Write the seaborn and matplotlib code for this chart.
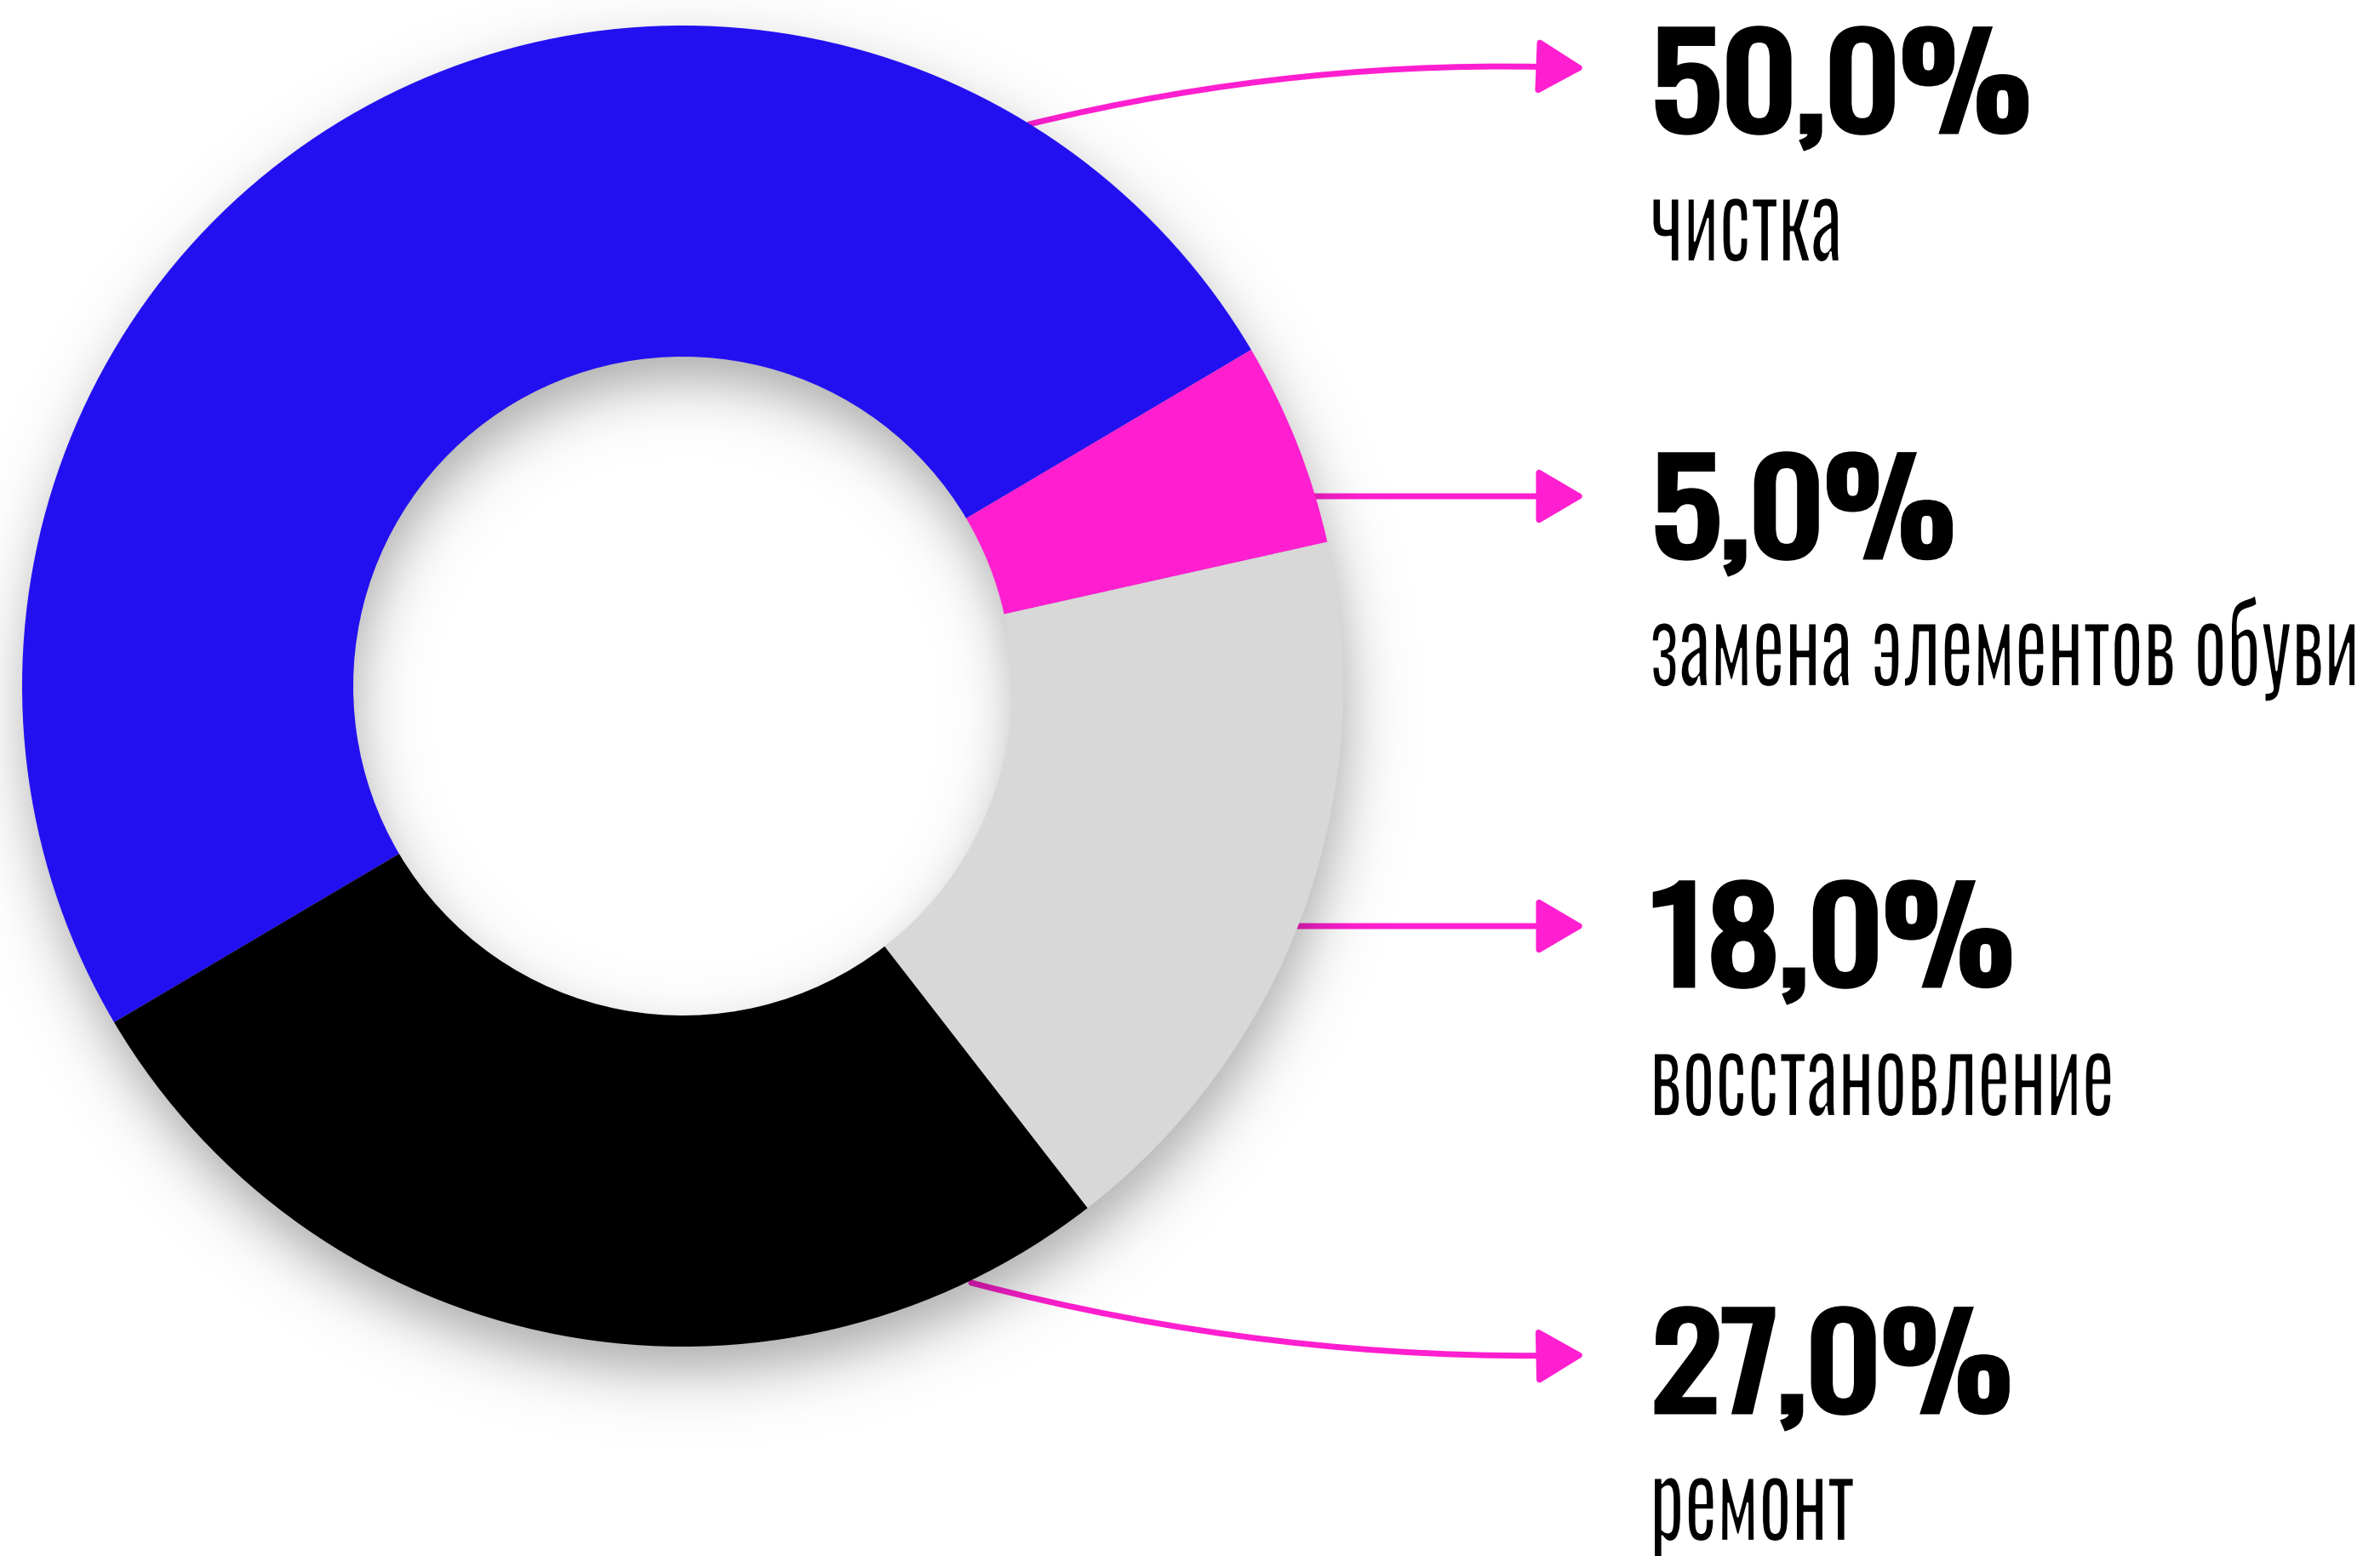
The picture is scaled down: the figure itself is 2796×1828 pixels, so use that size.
import numpy as np
import seaborn as sns
import matplotlib.pyplot as plt
from matplotlib.patheffects import AbstractPathEffect
from matplotlib.transforms import Affine2D

# data
categories = ["чистка", "замена элементов обуви", "восстановление", "ремонт"]
shares = [50.0, 5.0, 18.0, 27.0]
colors = ["#2310F0", "#FF1FD0", "#D8D8D8", "#000000"]


class Reshape(AbstractPathEffect):
    # scale glyphs around the text origin, thicken (stroke) or thin (white edge)
    def __init__(self, sx=1.0, sy=1.0, stroke=0.0, thin=0.0):
        super().__init__()
        self.sx, self.sy, self.stroke, self.thin = sx, sy, stroke, thin

    def draw_path(self, renderer, gc, tpath, affine, rgbFace=None):
        m = affine.get_matrix()
        x0, y0 = m[0, 2], m[1, 2]
        aff = affine + Affine2D().translate(-x0, -y0).scale(self.sx, self.sy).translate(x0, y0)
        gc0 = renderer.new_gc()
        gc0.copy_properties(gc)
        if self.stroke:
            gc0.set_linewidth(self.stroke)
            gc0.set_foreground(rgbFace)
            gc0.set_joinstyle('miter')
        renderer.draw_path(gc0, tpath, aff, rgbFace)
        if self.thin:
            gc0.set_linewidth(self.thin)
            gc0.set_foreground('white')
            renderer.draw_path(gc0, tpath, aff, None)
        gc0.restore()


sns.set_theme(style="white")
plt.rcParams['font.family'] = ['Oswald', 'DejaVu Sans']

W, H = 2796, 1828
fig = plt.figure(figsize=(W / 100, H / 100), dpi=100)
ax = fig.add_axes([0, 0, 1, 1])

cx, cy = 802, H - 806
r_out, r_in = 776, 387
pink = "#FF1FD0"

# soft drop shadow of the ring (also falls into the hole)
gx, gy = np.meshgrid(np.arange(0, 1700), np.arange(0, H))
d = np.hypot(gx - cx - 4, gy - (cy - 30))
sig = lambda r: 1 / (1 + np.exp((d - r) / 20))
shadow = np.zeros((H, 1700, 4))
shadow[..., 3] = 0.33 * np.clip(sig(r_out) - sig(r_in), 0, 1)
ax.imshow(shadow, extent=(0, 1700, 0, H), origin='lower', zorder=2, interpolation='bilinear')

ax.pie(shares, colors=colors, startangle=210.6, counterclock=False,
       center=(cx, cy), radius=r_out, frame=True,
       wedgeprops=dict(width=r_out - r_in, linewidth=0, zorder=3))

ax.set_xlim(0, W)
ax.set_ylim(0, H)
ax.set_aspect('equal')
ax.axis('off')

# arrows from the ring to the labels
arrows = [
    ((1209, H - 146), (1862, H - 80), "arc3,rad=-0.07"),
    ((1500, H - 583), (1862, H - 583), "arc3,rad=0"),
    ((1500, H - 1088), (1862, H - 1088), "arc3,rad=0"),
    ((1141, H - 1507), (1862, H - 1592), "arc3,rad=0.07"),
]
for start, end, cs in arrows:
    ax.annotate("", xy=end, xytext=start, zorder=1,
                arrowprops=dict(arrowstyle="-|>,head_length=34,head_width=20",
                                mutation_scale=1, color=pink, lw=5,
                                connectionstyle=cs, shrinkA=0, shrinkB=0))

# labels
pct_base = [160, 660, 1163, 1664]
lab_base = [307, 806, 1311, 1810]
for cat, v, pb, lb in zip(categories, shares, pct_base, lab_base):
    ax.text(1940, H - pb + 6, f"{v:.1f}%".replace('.', ','), fontsize=106,
            color='black', ha='left', va='baseline', zorder=5,
            path_effects=[Reshape(sx=1.17, stroke=5)])
    ax.text(1938, H - lb, cat, fontsize=66, color='black',
            ha='left', va='baseline', zorder=5,
            path_effects=[Reshape(sy=1.39, thin=1.6)])

fig.savefig("out.png", dpi=100, facecolor='white')
